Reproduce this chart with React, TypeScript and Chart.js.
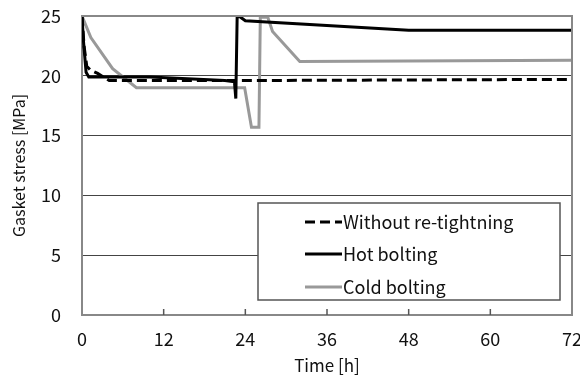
import React, { useEffect, useRef } from "react";
import { Chart, registerables } from "chart.js";

Chart.register(...registerables);

const FONT = "'Noto Sans CJK JP', 'Noto Sans', sans-serif";

const timeWithout = [0, 0.3, 0.7, 1.2, 2.3, 4, 10, 23, 72];
const stressWithout = [25, 22.5, 20.8, 20.5, 20.2, 19.6, 19.6, 19.6, 19.7];

const timeHot = [0, 0.2, 0.6, 1, 10, 21, 22.4, 22.6, 22.8, 23.3, 24, 48, 72];
const stressHot = [25, 23, 20.3, 19.9, 19.9, 19.6, 19.5, 18.1, 25, 24.9, 24.6, 23.8, 23.8];

const timeCold = [0, 1.3, 4.5, 8, 23.9, 24.9, 26, 26.2, 27.3, 28, 32, 72];
const stressCold = [25, 23.2, 20.6, 19.0, 19.0, 15.7, 15.7, 24.9, 24.9, 23.7, 21.2, 21.3];

const seriesLabels = ["Without re-tightning", "Hot bolting", "Cold bolting"];
const xTicks = [0, 12, 24, 36, 48, 60, 72];
const yTicks = [0, 5, 10, 15, 20, 25];

const toPoints = (t: number[], v: number[]) => t.map((x, i) => ({ x, y: v[i] }));

const framePlugin = {
  id: "frame",
  afterDraw(chart: any) {
    const { ctx, chartArea } = chart;
    const xs = chart.scales.x;
    ctx.save();
    // top & right border
    ctx.strokeStyle = "#888";
    ctx.lineWidth = 2;
    ctx.beginPath();
    ctx.moveTo(chartArea.left, chartArea.top);
    ctx.lineTo(chartArea.right, chartArea.top);
    ctx.lineTo(chartArea.right, chartArea.bottom);
    ctx.stroke();
    // inward x ticks
    ctx.strokeStyle = "#555";
    ctx.lineWidth = 1.5;
    xTicks.forEach((t) => {
      if (t === 0 || t === 72) return;
      const px = xs.getPixelForValue(t);
      ctx.beginPath();
      ctx.moveTo(px, chartArea.bottom);
      ctx.lineTo(px, chartArea.bottom - 6);
      ctx.stroke();
    });
    // legend
    const bx = 258, by = 203, bw = 302, bh = 97;
    ctx.fillStyle = "#fff";
    ctx.fillRect(bx, by, bw, bh);
    ctx.strokeStyle = "#555";
    ctx.lineWidth = 1.5;
    ctx.strokeRect(bx, by, bw, bh);
    const rows = [222, 254, 287];
    const ds = chart.data.datasets;
    ds.forEach((d: any, i: number) => {
      const y = rows[i];
      ctx.strokeStyle = d.borderColor;
      ctx.lineWidth = 3;
      ctx.setLineDash(d.borderDash || []);
      ctx.beginPath();
      ctx.moveTo(305, y);
      ctx.lineTo(342, y);
      ctx.stroke();
      ctx.setLineDash([]);
      ctx.fillStyle = "#111";
      ctx.font = `18px ${FONT}`;
      ctx.textBaseline = "middle";
      ctx.textAlign = "left";
      ctx.fillText(d.label, 343, y);
    });
    ctx.restore();
  },
};

export default function App() {
  const ref = useRef<HTMLCanvasElement>(null);
  useEffect(() => {
    if (!ref.current) return;
    const chart = new Chart(ref.current, {
      type: "line",
      data: {
        datasets: [
          {
            label: seriesLabels[0],
            data: toPoints(timeWithout, stressWithout),
            borderColor: "#000",
            borderWidth: 3,
            borderDash: [10, 5],
            pointRadius: 0,
            tension: 0,
          },
          {
            label: seriesLabels[1],
            data: toPoints(timeHot, stressHot),
            borderColor: "#000",
            borderWidth: 3,
            pointRadius: 0,
            tension: 0,
          },
          {
            label: seriesLabels[2],
            data: toPoints(timeCold, stressCold),
            borderColor: "#999",
            borderWidth: 3,
            pointRadius: 0,
            tension: 0,
          },
        ],
      },
      options: {
        responsive: false,
        animation: false,
        devicePixelRatio: 1,
        layout: { padding: { top: 16, right: 8, left: 0, bottom: 0 } },
        plugins: { legend: { display: false }, tooltip: { enabled: false } },
        scales: {
          x: {
            type: "linear",
            min: 0,
            max: 72,
            afterBuildTicks: (s: any) => {
              s.ticks = xTicks.map((v) => ({ value: v }));
            },
            afterFit: (s: any) => {
              s.height = 65;
              s.paddingLeft = 0;
              s.paddingRight = 0;
            },
            grid: { display: false, drawTicks: false },
            border: { color: "#888", width: 2 },
            ticks: { color: "#111", font: { family: FONT, size: 18 }, padding: 13, maxRotation: 0 },
            title: {
              display: true,
              text: "Time [h]",
              color: "#111",
              font: { family: FONT, size: 17 },
              padding: { top: 0, bottom: 4 },
            },
          },
          y: {
            min: 0,
            max: 25,
            afterBuildTicks: (s: any) => {
              s.ticks = yTicks.map((v) => ({ value: v }));
            },
            afterFit: (s: any) => {
              s.width = 82;
              s.paddingTop = 0;
              s.paddingBottom = 0;
            },
            grid: {
              drawTicks: false,
              color: (c: any) => (c.tick && (c.tick.value === 25 || c.tick.value === 0) ? "rgba(0,0,0,0)" : "#444"),
              lineWidth: 1,
            },
            border: { color: "#888", width: 2 },
            ticks: { color: "#111", font: { family: FONT, size: 18 }, padding: 21 },
            title: {
              display: true,
              text: "Gasket stress [MPa]",
              color: "#111",
              font: { family: FONT, size: 16 },
              padding: { top: 9, bottom: 0 },
            },
          },
        },
      },
      plugins: [framePlugin],
    } as any);
    return () => chart.destroy();
  }, []);
  return (
    <div style={{ position: "absolute", left: 0, top: 0, width: 580, height: 380, background: "#fff" }}>
      <canvas ref={ref} width={580} height={380} />
    </div>
  );
}
